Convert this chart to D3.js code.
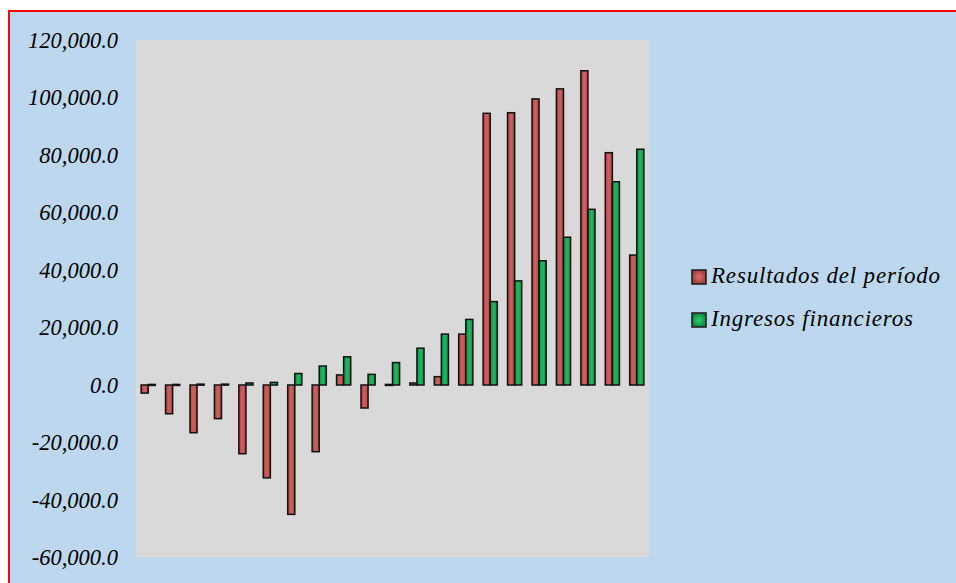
<!DOCTYPE html>
<html>
<head>
<meta charset="utf-8">
<script src="https://cdn.jsdelivr.net/npm/d3@7/dist/d3.min.js"></script>
<style>
  html, body { margin: 0; padding: 0; background: #ffffff; }
  svg { display: block; }
</style>
</head>
<body>
<svg id="chart" width="956" height="583"></svg>
<script>
// Periods (21 consecutive periods, unlabeled on the axis)
const periods = d3.range(1, 22).map(String);
const seriesNames = ["Resultados del período", "Ingresos financieros"];
const resultados = [-2800, -10000, -16600, -11700, -23900, -32300, -45000, -23200, 3500, -8000,
                    200, 700, 2900, 17700, 94500, 94700, 99500, 103000, 109300, 80800, 45200];
const ingresos = [200, 200, 300, 300, 700, 900, 4000, 6600, 9800, 3700,
                  7800, 12800, 17700, 22800, 29000, 36200, 43200, 51400, 61100, 70700, 82000];
const yTicks = [-60000, -40000, -20000, 0, 20000, 40000, 60000, 80000, 100000, 120000];

const svg = d3.select("#chart");
const W = 956, H = 583;
const plot = { left: 136, right: 649, top: 40, bottom: 557.5 };
const serif = "'Liberation Serif', 'DejaVu Serif', serif";

// Outer chart area: light blue with red frame
svg.append("rect").attr("x", 9).attr("y", 11).attr("width", W + 10).attr("height", H + 10)
  .attr("fill", "#BDD7EE").attr("stroke", "#FF0000").attr("stroke-width", 2);

// Plot area
svg.append("rect").attr("x", plot.left).attr("y", plot.top)
  .attr("width", plot.right - plot.left).attr("height", plot.bottom - plot.top)
  .attr("fill", "#D9D9D9");

const x = d3.scaleBand().domain(periods).range([plot.left, plot.right]).paddingInner(0.42).paddingOuter(0.21);
const xs = d3.scaleBand().domain(seriesNames).range([0, x.bandwidth()]);
const y = d3.scaleLinear().domain([-60000, 120000]).range([plot.bottom, plot.top]);

// Bar gradients (light highlight in the middle of each bar)
const defs = svg.append("defs");
function grad(id, edge, mid) {
  const g = defs.append("linearGradient").attr("id", id).attr("x1", "0").attr("x2", "1").attr("y1", "0").attr("y2", "0");
  g.append("stop").attr("offset", "0%").attr("stop-color", edge);
  g.append("stop").attr("offset", "50%").attr("stop-color", mid);
  g.append("stop").attr("offset", "100%").attr("stop-color", edge);
}
grad("gRed", "#A94440", "#D0625F");
grad("gGreen", "#0E8F45", "#22B862");
function rgrad(id, edge, mid) {
  const g = defs.append("radialGradient").attr("id", id);
  g.append("stop").attr("offset", "0%").attr("stop-color", mid);
  g.append("stop").attr("offset", "100%").attr("stop-color", edge);
}
rgrad("lRed", "#9E3E3B", "#E07070");
rgrad("lGreen", "#0C8A40", "#2ED070");
const fills = { "Resultados del período": "url(#gRed)", "Ingresos financieros": "url(#gGreen)" };
const legendFills = { "Resultados del período": "url(#lRed)", "Ingresos financieros": "url(#lGreen)" };

const rows = periods.map((p, i) => ({ p, vals: [
  { s: seriesNames[0], v: resultados[i] },
  { s: seriesNames[1], v: ingresos[i] }
]}));

const groups = svg.append("g").selectAll("g").data(rows).join("g")
  .attr("transform", d => `translate(${x(d.p)},0)`);
groups.selectAll("rect").data(d => d.vals).join("rect")
  .attr("x", d => xs(d.s))
  .attr("width", xs.bandwidth())
  .attr("y", d => y(Math.max(0, d.v)))
  .attr("height", d => Math.max(1, Math.abs(y(d.v) - y(0))))
  .attr("fill", d => fills[d.s])
  .attr("stroke", "#111")
  .attr("stroke-width", 1.5);

// Y axis labels (hyphen-minus for negatives)
const locale = d3.formatLocale({ decimal: ".", thousands: ",", grouping: [3], currency: ["", ""], minus: "-" });
const fmt = locale.format(",.1f");
const yAxis = svg.append("g").attr("transform", "translate(118,0)")
  .call(d3.axisLeft(y).tickValues(yTicks).tickSize(0).tickPadding(0).tickFormat(fmt));
yAxis.select(".domain").remove();
yAxis.selectAll("text")
  .attr("font-family", serif)
  .attr("font-style", "italic")
  .attr("font-size", 22.5)
  .attr("fill", "#000")
  .attr("dy", "0.32em");

// Legend
const legend = svg.append("g");
const legBase = [283, 326];
const legLen = [229, 202];
seriesNames.forEach((name, i) => {
  legend.append("rect").attr("x", 692).attr("y", legBase[i] - 13).attr("width", 14).attr("height", 14)
    .attr("fill", legendFills[name]).attr("stroke", "#222").attr("stroke-width", 1.6);
  legend.append("text").attr("x", 711).attr("y", legBase[i])
    .attr("font-family", serif)
    .attr("font-style", "italic").attr("font-size", 23).attr("fill", "#000")
    .attr("textLength", legLen[i]).attr("lengthAdjust", "spacing")
    .text(name);
});
</script>
</body>
</html>
